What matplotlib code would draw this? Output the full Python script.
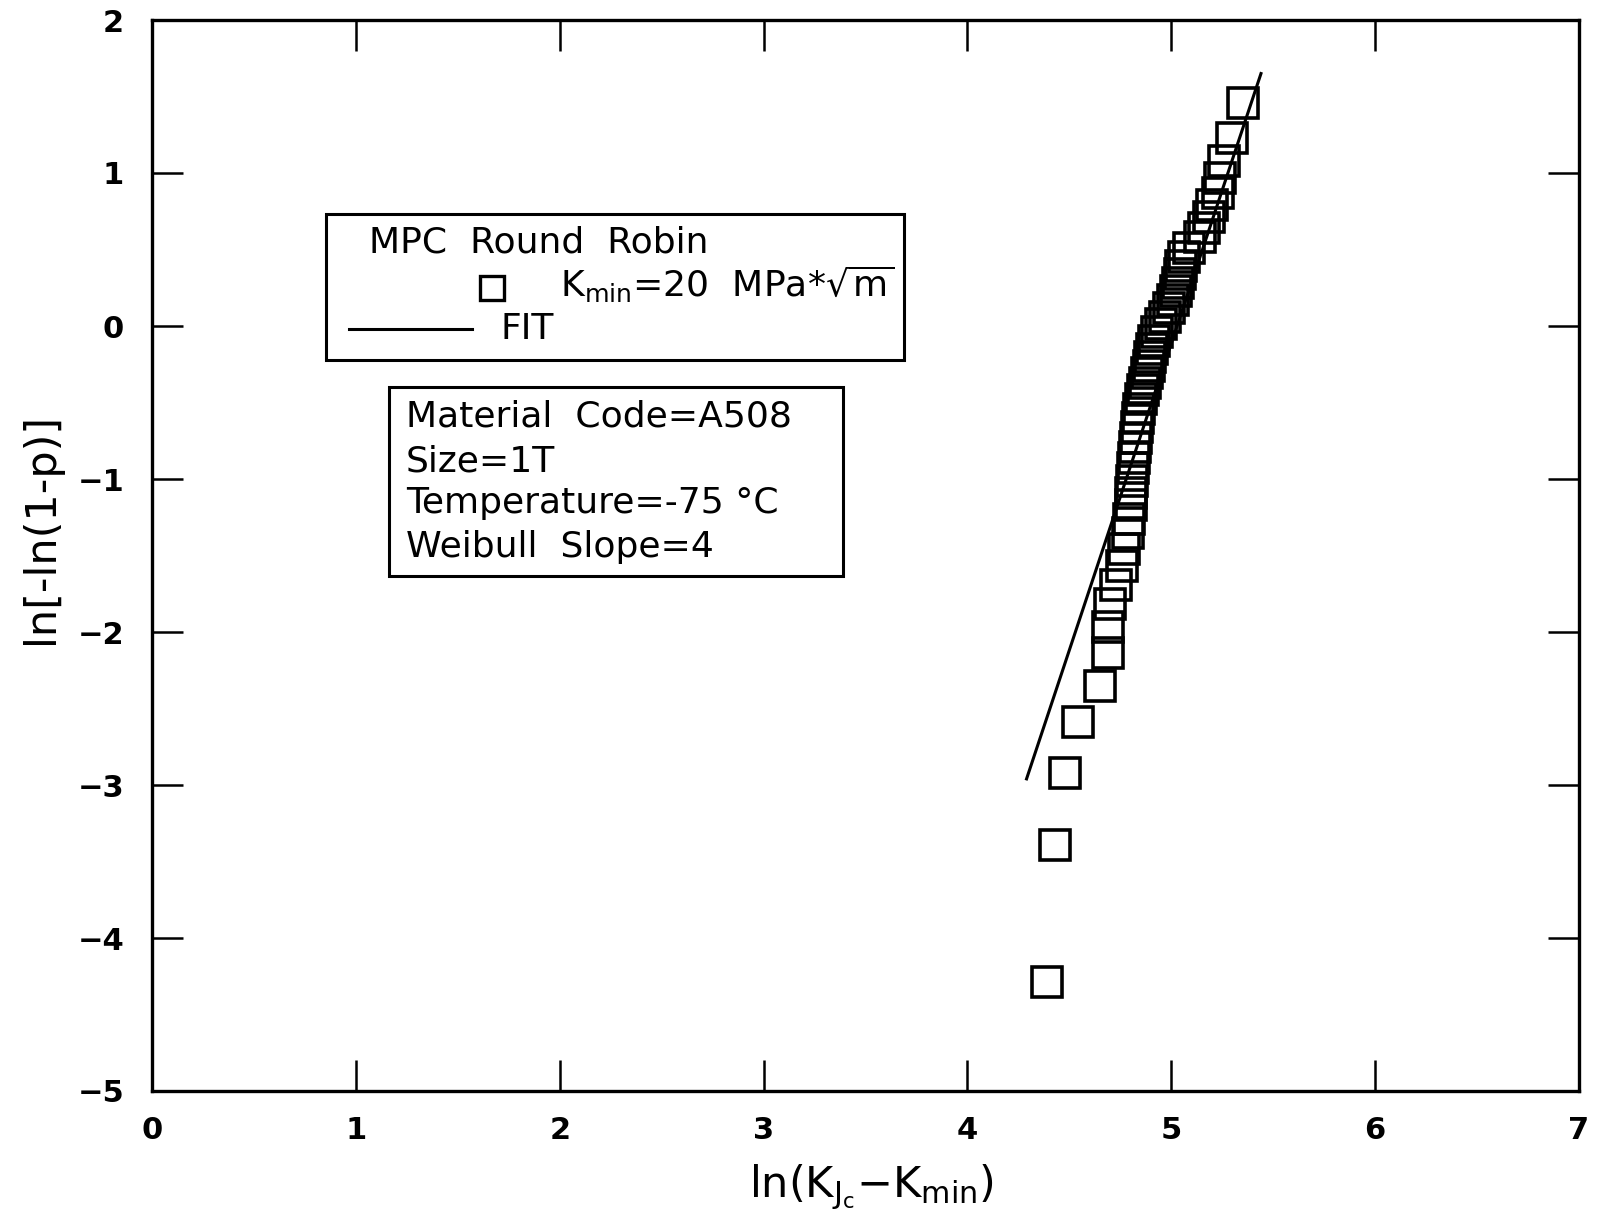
import numpy as np
import matplotlib
matplotlib.use('Agg')
import matplotlib.pyplot as plt
from matplotlib.patches import Rectangle
from matplotlib.lines import Line2D

plt.rcParams['font.family'] = 'DejaVu Sans'
plt.rcParams['mathtext.default'] = 'regular'

# ln(KJc - Kmin)
x_data = [4.39, 4.43, 4.48, 4.54, 4.65, 4.69, 4.69, 4.70, 4.73, 4.76,
          4.77, 4.79, 4.795, 4.80, 4.80, 4.805, 4.81, 4.815, 4.82, 4.825,
          4.83, 4.835, 4.84, 4.85, 4.86, 4.87, 4.88, 4.89, 4.895, 4.905,
          4.915, 4.93, 4.95, 4.97, 4.99, 5.01, 5.025, 5.035, 5.045, 5.05,
          5.06, 5.085, 5.14, 5.16, 5.185, 5.20, 5.23, 5.24, 5.26, 5.30,
          5.35]
# ln[-ln(1-p)]
y_data = [-4.29, -3.39, -2.92, -2.59, -2.35, -2.14, -1.97, -1.82, -1.69, -1.57,
          -1.46, -1.35, -1.26, -1.17, -1.09, -1.01, -0.93, -0.86, -0.79, -0.73,
          -0.66, -0.60, -0.54, -0.48, -0.42, -0.37, -0.31, -0.26, -0.20, -0.15,
          -0.10, -0.04, 0.01, 0.06, 0.12, 0.17, 0.23, 0.28, 0.34, 0.39,
          0.45, 0.51, 0.58, 0.64, 0.71, 0.79, 0.87, 0.97, 1.08, 1.23,
          1.46]

fit_x = [4.29, 5.44]
fit_y = [-2.96, 1.65]

xticks = [0, 1, 2, 3, 4, 5, 6, 7]
yticks = [-5, -4, -3, -2, -1, 0, 1, 2]

info_lines = ['Material  Code=A508', 'Size=1T', 'Temperature=-75 \u00b0C', 'Weibull  Slope=4']

fig = plt.figure(figsize=(15.98, 12.25), dpi=100)
ax = fig.add_axes([152/1598, 1-1091/1225, 1427/1598, 1071/1225])

ax.plot(x_data, y_data, 's', ms=21, mfc='none', mec='black', mew=2.6)
ax.plot(fit_x, fit_y, '-', color='black', lw=2.2)

ax.set_xlim(0, 7)
ax.set_ylim(-5, 2)
ax.set_xticks(xticks)
ax.set_yticks(yticks)
ax.set_xticklabels([str(t) for t in xticks])
ax.set_yticklabels([str(t).replace('-', '\u2212') for t in yticks])
ax.tick_params(direction='in', length=22, width=1.8, top=True, right=True,
               labelsize=22)
ax.tick_params(axis='x', pad=18)
ax.tick_params(axis='y', pad=20)
for lab in ax.get_xticklabels() + ax.get_yticklabels():
    lab.set_fontweight('bold')
for sp in ax.spines.values():
    sp.set_linewidth(2.4)

fig.text(871/1598, 1-1187/1225, r'ln(K$_{J_c}$$-$K$_{min}$)', fontsize=31,
         ha='center', va='center')
fig.text(41/1598, 1-528/1225, 'ln[-ln(1-p)]', fontsize=31, rotation=90,
         ha='center', va='center')

# legend box
tr = ax.transAxes
ax.add_patch(Rectangle((0.122, 0.6825), 0.405, 0.1365, transform=tr,
                       fill=False, lw=2.2, ec='black', zorder=5))
ax.text(0.152, 0.792, 'MPC  Round  Robin', transform=tr, fontsize=26,
        ha='left', va='center')
ax.add_line(Line2D([0.238], [0.750], transform=tr, marker='s', ms=17,
                   mfc='none', mec='black', mew=2.4))
ax.text(0.286, 0.753, r'K$_{min}$=20  MPa*$\sqrt{m}$', transform=tr, fontsize=26,
        ha='left', va='center')
ax.add_line(Line2D([0.138, 0.224], [0.7115, 0.7115], transform=tr,
                   color='black', lw=2.2))
ax.text(0.244, 0.7115, 'FIT', transform=tr, fontsize=26, ha='left', va='center')

# info box
ax.add_patch(Rectangle((0.166, 0.481), 0.318, 0.176, transform=tr,
                       fill=False, lw=2.2, ec='black', zorder=5))
for yy, s in zip([0.630, 0.588, 0.549, 0.508], info_lines):
    ax.text(0.178, yy, s, transform=tr, fontsize=26, ha='left', va='center')

fig.savefig('out.png', dpi=100)
